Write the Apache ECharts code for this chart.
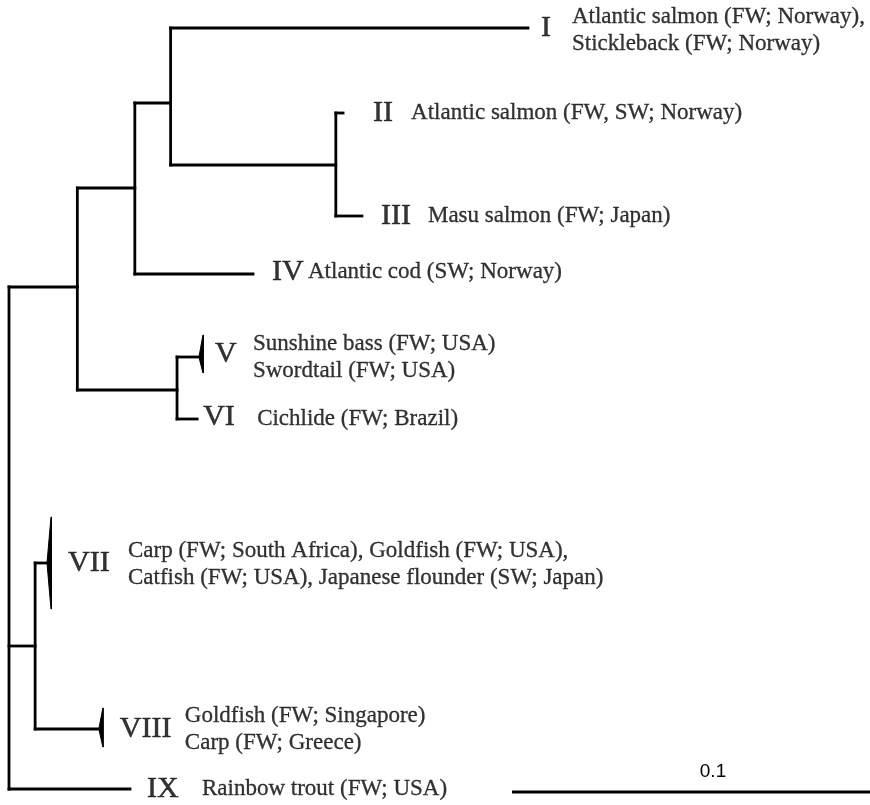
<!DOCTYPE html>
<html>
<head>
<meta charset="utf-8">
<script src="https://cdn.jsdelivr.net/npm/echarts@6/dist/echarts.min.js"></script>
<style>html,body{margin:0;padding:0;background:#fff;}#c{width:870px;height:805px;}</style>
</head>
<body>
<div id="c"></div>
<script>
// ---- tree data ----
const nodeNames   = ['root','C','B','A','D','E','F','I','II','III','IV','V','VI','VII','VIII','IX'];
const nodeParents = [null,'root','C','B','A','C','root','A','D','D','B','E','E','F','F','root'];
const branchLengths = [0, 0.0170, 0.0143, 0.0089, 0.0411, 0.0248, 0.0065, 0.0889, 0.0018, 0.0065, 0.0294, 0.0057, 0.0050, 0.0032, 0.0161, 0.0301];
// vertical row position of each node in the layout
const nodeRows = [538, 287, 188, 103, 165, 390, 646, 28, 113, 216, 274, 357, 419, 563, 729, 789];
// collapsed clades: [tip, top row, bottom row]
const collapsedClades = [['V', 335, 373], ['VII', 517, 609], ['VIII', 708, 747]];
// tip labels
const tipNames = ['I','II','III','IV','V','VI','VII','VIII','IX'];
const tipTaxa = [
  'Atlantic salmon (FW; Norway),\nStickleback (FW; Norway)',
  'Atlantic salmon (FW, SW; Norway)',
  'Masu salmon (FW; Japan)',
  'Atlantic cod (SW; Norway)',
  'Sunshine bass (FW; USA)\nSwordtail (FW; USA)',
  'Cichlide (FW; Brazil)',
  'Carp (FW; South Africa), Goldfish (FW; USA),\nCatfish (FW; USA), Japanese flounder (SW; Japan)',
  'Goldfish (FW; Singapore)\nCarp (FW; Greece)',
  'Rainbow trout (FW; USA)'
];
const scaleBarLength = 0.1;
const scaleBarLabel = '0.1';

// ---- layout (pixel offsets of labels from tip ends) ----
const numeralDx = [13, 30, 19, 19, 15, 6, 20, 20, 17];
const numeralDy = [0, 0, 0, -2, -3, -2, 0, 0, 0];
const taxaDx = [44, 68, 66, 55, 53, 60, 80, 85, 72];
const taxaDy = [2, 0, 0, -2, 0, 0, 1, 0, 0];

// ---- compute depths ----
const idx = {};
nodeNames.forEach((n, i) => idx[n] = i);
const depth = new Array(nodeNames.length).fill(null);
function getDepth(i) {
  if (depth[i] !== null) return depth[i];
  const p = nodeParents[i];
  depth[i] = p === null ? 0 : getDepth(idx[p]) + branchLengths[i];
  return depth[i];
}
nodeNames.forEach((n, i) => getDepth(i));

const segments = [];
nodeNames.forEach((n, i) => {
  const p = nodeParents[i];
  if (p !== null) segments.push([depth[idx[p]], nodeRows[i], depth[i], nodeRows[i]]);
  const kids = nodeNames.map((m, j) => j).filter(j => nodeParents[j] === n);
  if (kids.length) {
    const rows = kids.map(j => nodeRows[j]);
    segments.push([depth[i], Math.min(...rows), depth[i], Math.max(...rows)]);
  }
});

const triData = collapsedClades.map(c => [depth[idx[c[0]]], nodeRows[idx[c[0]]], c[1], c[2]]);

const serif = "'Liberation Serif', 'Times New Roman', serif";
const labelData = [];
tipNames.forEach((t, k) => {
  const i = idx[t];
  labelData.push({
    value: [depth[i], nodeRows[i]],
    label: { formatter: t, position: [numeralDx[k], numeralDy[k]], fontSize: 30, fontFamily: serif, color: '#000',
      textBorderColor: '#000', textBorderWidth: 0.5, align: 'left', verticalAlign: 'middle' }
  });
  labelData.push({
    value: [depth[i], nodeRows[i]],
    label: { formatter: tipTaxa[k], position: [taxaDx[k], taxaDy[k]], fontSize: 23, lineHeight: 27, fontFamily: serif, color: '#000',
      textBorderColor: '#000', textBorderWidth: 0.3, align: 'left', verticalAlign: 'middle' }
  });
});

const PX_PER_UNIT = 4020;
const xMax = (870 - 9) / PX_PER_UNIT;
const barStart = (512 - 9) / PX_PER_UNIT;
const barRow = 792;

const chart = echarts.init(document.getElementById('c'), null, { renderer: 'canvas' });
chart.setOption({
  animation: false,
  backgroundColor: '#fff',
  grid: { left: 9, right: 0, top: 0, bottom: 0 },
  xAxis: { type: 'value', min: 0, max: xMax, show: false },
  yAxis: { type: 'value', min: 0, max: 805, inverse: true, show: false },
  series: [
    {
      type: 'custom',
      data: segments,
      clip: false,
      renderItem: function (params, api) {
        const a = api.coord([api.value(0), api.value(1)]);
        const b = api.coord([api.value(2), api.value(3)]);
        return { type: 'line', shape: { x1: a[0], y1: a[1], x2: b[0], y2: b[1] },
          style: { stroke: '#000', lineWidth: 2.8, lineCap: 'square' } };
      }
    },
    {
      type: 'custom',
      data: triData,
      renderItem: function (params, api) {
        const tip = api.coord([api.value(0), api.value(1)]);
        const top = api.coord([api.value(0), api.value(2)]);
        const bot = api.coord([api.value(0), api.value(3)]);
        const bx = tip[0] + 3;
        return { type: 'polygon', shape: { points: [[tip[0] - 1, tip[1]], [bx, top[1]], [bx + 0.5, top[1]], [bx + 0.5, bot[1]], [bx, bot[1]]] },
          style: { fill: '#000', stroke: '#000', lineWidth: 1 } };
      }
    },
    {
      type: 'scatter',
      symbolSize: 0,
      data: labelData,
      label: { show: true },
      silent: true
    },
    {
      type: 'custom',
      data: [[barStart, barStart + scaleBarLength, barRow]],
      renderItem: function (params, api) {
        const a = api.coord([api.value(0), api.value(2)]);
        const b = api.coord([api.value(1), api.value(2)]);
        return { type: 'group', children: [
          { type: 'line', shape: { x1: a[0], y1: a[1], x2: b[0], y2: b[1] }, style: { stroke: '#000', lineWidth: 3 } },
          { type: 'text', style: { text: scaleBarLabel, x: (a[0] + b[0]) / 2, y: a[1] - 20, align: 'center', verticalAlign: 'middle',
            textAlign: 'center', textVerticalAlign: 'middle', font: "19px 'Liberation Sans', Arial, sans-serif", fill: '#000' } }
        ] };
      }
    }
  ]
});
</script>
</body>
</html>
